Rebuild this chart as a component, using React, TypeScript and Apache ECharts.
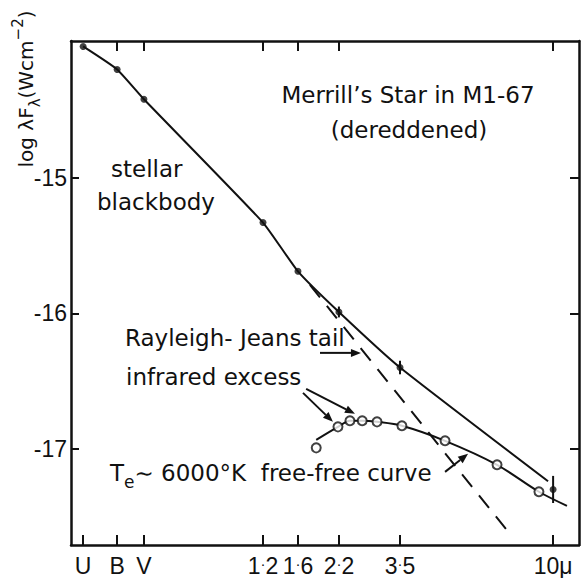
import { useEffect, useRef } from "react";
import * as echarts from "echarts";

// x: log10 of wavelength (axis position in μm), y: log λF_λ (W cm^-2)
const bandLabels = ["U", "B", "V", "1·2", "1·6", "2·2", "3·5", "10μ"];
const bandLogLambda = [-0.492, -0.384, -0.299, 0.079, 0.19, 0.32, 0.514, 1.0];
const topTickLogLambda = [-0.384, -0.299, 0.079, 0.19, 0.32, 1.0];
const yTicks = [-15, -16, -17];

// measured stellar fluxes (filled dots) and their error half-widths
const stellarFlux = [-14.03, -14.2, -14.42, -15.33, -15.69, -15.99, -16.4, -17.3];
const stellarErr = [0, 0, 0, 0, 0, 0.04, 0.05, 0.1];

// stellar blackbody curve
const blackbodyX = [-0.492, -0.384, -0.299, 0.079, 0.19, 0.32, 0.514, 0.984];
const blackbodyY = [-14.03, -14.2, -14.42, -15.33, -15.69, -15.99, -16.4, -17.24];

// Rayleigh-Jeans tail (dashed)
const rjTailX = [0.228, 0.87];
const rjTailY = [-15.79, -17.649];

// infrared excess (open circles)
const excessX = [0.248, 0.317, 0.355, 0.394, 0.441, 0.52, 0.657, 0.822, 0.955];
const excessY = [-16.993, -16.838, -16.793, -16.793, -16.801, -16.83, -16.941, -17.118, -17.317];

// Te ~ 6000 K free-free curve
const freeFreeX = [0.248, 0.317, 0.355, 0.394, 0.441, 0.52, 0.657, 0.822, 0.955, 1.044];
const freeFreeY = [-16.934, -16.838, -16.793, -16.793, -16.801, -16.83, -16.941, -17.118, -17.317, -17.421];

// annotation arrows: [xFrom, yFrom, xTo, yTo]
const arrowFromX = [0.26, 0.206, 0.216, 0.657];
const arrowFromY = [-16.292, -16.587, -16.557, -17.17];
const arrowToX = [0.39, 0.301, 0.371, 0.73];
const arrowToY = [-16.292, -16.801, -16.742, -17.037];

const FONT = '"DejaVu Sans", sans-serif';
const TICKFONT = '"Liberation Sans", Arial, sans-serif';
const INK = "#111";

export default function App() {
  const ref = useRef<HTMLDivElement>(null);
  useEffect(() => {
    if (!ref.current) return;
    const chart = echarts.init(ref.current, null, { renderer: "svg" });

    const zip = (xs: number[], ys: number[]) => xs.map((x, i) => [x, ys[i]]);
    const errData = bandLogLambda
      .map((x, i) => [x, stellarFlux[i], stellarErr[i]])
      .filter((d) => d[2] > 0);
    const arrowData = arrowFromX.map((x, i) => [x, arrowFromY[i], arrowToX[i], arrowToY[i]]);

    const axisLine = { show: true, onZero: false, lineStyle: { color: INK, width: 2.5 } };
    const xmin = -0.5305;
    const xmax = 1.0822;
    const ymin = -17.71;
    const ymax = -13.99;

    const option: any = {
      animation: false,
      backgroundColor: "#fff",
      grid: { left: 71, right: 6, top: 41, bottom: 33, containLabel: false },
      xAxis: [
        {
          type: "value",
          position: "bottom",
          min: xmin,
          max: xmax,
          axisLine,
          splitLine: { show: false },
          axisTick: {
            show: true,
            inside: true,
            length: 10,
            customValues: bandLogLambda,
            lineStyle: { color: INK, width: 2 },
          },
          axisLabel: {
            show: true,
            customValues: bandLogLambda,
            margin: 9,
            fontSize: 23,
            fontFamily: TICKFONT,
            color: INK,
            formatter: (v: number) => {
              const i = bandLogLambda.findIndex((b) => Math.abs(b - v) < 1e-6);
              if (i < 0) return "";
              const parts = bandLabels[i].split("·");
              return parts.length === 2
                ? `{n|${parts[0]}}{d|·}{n|${parts[1]}}`
                : `{n|${bandLabels[i]}}`;
            },
            rich: {
              n: { fontSize: 23, fontFamily: TICKFONT, color: INK },
              d: { fontSize: 15, fontFamily: TICKFONT, color: INK, padding: [0, 0, 5, 0] },
            },
          },
        },
        {
          type: "value",
          position: "top",
          min: xmin,
          max: xmax,
          axisLine,
          splitLine: { show: false },
          axisTick: {
            show: true,
            inside: true,
            length: 10,
            customValues: topTickLogLambda,
            lineStyle: { color: INK, width: 2 },
          },
          axisLabel: { show: false },
        },
      ],
      yAxis: [
        {
          type: "value",
          position: "left",
          min: ymin,
          max: ymax,
          axisLine,
          splitLine: { show: false },
          axisTick: {
            show: true,
            inside: true,
            length: 8,
            customValues: yTicks,
            lineStyle: { color: INK, width: 2 },
          },
          axisLabel: {
            show: true,
            customValues: yTicks,
            margin: 4,
            fontSize: 23,
            fontFamily: TICKFONT,
            color: INK,
            formatter: (v: number) => String(v),
          },
        },
        {
          type: "value",
          position: "right",
          min: ymin,
          max: ymax,
          axisLine,
          splitLine: { show: false },
          axisTick: {
            show: true,
            inside: true,
            length: 9,
            customValues: yTicks,
            lineStyle: { color: INK, width: 2 },
          },
          axisLabel: { show: false },
        },
      ],
      series: [
        {
          name: "stellar blackbody",
          type: "line",
          data: zip(blackbodyX, blackbodyY),
          smooth: 0.15,
          symbol: "none",
          lineStyle: { color: INK, width: 2 },
          z: 2,
        },
        {
          name: "Rayleigh-Jeans tail",
          type: "line",
          data: zip(rjTailX, rjTailY),
          symbol: "none",
          lineStyle: { color: INK, width: 2, type: [16, 11] },
          z: 2,
        },
        {
          name: "free-free curve",
          type: "line",
          data: zip(freeFreeX, freeFreeY),
          smooth: 0.3,
          symbol: "none",
          lineStyle: { color: INK, width: 2 },
          z: 2,
        },
        {
          name: "error bars",
          type: "custom",
          data: errData,
          renderItem: (_p: any, api: any) => {
            const x = api.value(0);
            const y = api.value(1);
            const e = api.value(2);
            const a = api.coord([x, y - e]);
            const b = api.coord([x, y + e]);
            return {
              type: "line",
              shape: { x1: a[0], y1: a[1], x2: b[0], y2: b[1] },
              style: { stroke: INK, lineWidth: 2 },
            };
          },
          z: 3,
        },
        {
          name: "stellar",
          type: "scatter",
          data: zip(bandLogLambda, stellarFlux),
          symbol: "circle",
          symbolSize: 7,
          itemStyle: { color: INK },
          z: 4,
        },
        {
          name: "infrared excess",
          type: "scatter",
          data: zip(excessX, excessY),
          symbol: "circle",
          symbolSize: 9,
          itemStyle: { color: "#fff", borderColor: INK, borderWidth: 2 },
          z: 4,
        },
        {
          name: "arrows",
          type: "custom",
          data: arrowData,
          renderItem: (_p: any, api: any) => {
            const p1 = api.coord([api.value(0), api.value(1)]);
            const p2 = api.coord([api.value(2), api.value(3)]);
            const ang = Math.atan2(p2[1] - p1[1], p2[0] - p1[0]);
            const hl = 10;
            const hw = 4;
            const bx = p2[0] - hl * Math.cos(ang);
            const by = p2[1] - hl * Math.sin(ang);
            const nx = -Math.sin(ang) * hw;
            const ny = Math.cos(ang) * hw;
            return {
              type: "group",
              children: [
                {
                  type: "line",
                  shape: { x1: p1[0], y1: p1[1], x2: bx, y2: by },
                  style: { stroke: INK, lineWidth: 2 },
                },
                {
                  type: "polygon",
                  shape: {
                    points: [
                      [p2[0], p2[1]],
                      [bx + nx, by + ny],
                      [bx - nx, by - ny],
                    ],
                  },
                  style: { fill: INK },
                },
              ],
            };
          },
          z: 5,
        },
      ],
      graphic: [
        {
          type: "text",
          x: 408,
          y: 95,
          style: {
            text: "Merrill’s Star in M1-67",
            font: `23px ${FONT}`,
            fill: INK,
            textAlign: "center",
            textVerticalAlign: "middle",
            align: "center",
            verticalAlign: "middle",
          },
        },
        {
          type: "text",
          x: 409,
          y: 130,
          style: {
            text: "(dereddened)",
            font: `23px ${FONT}`,
            fill: INK,
            textAlign: "center",
            textVerticalAlign: "middle",
            align: "center",
            verticalAlign: "middle",
          },
        },
        {
          type: "text",
          x: 111,
          y: 169,
          style: {
            text: "stellar",
            font: `23px ${FONT}`,
            fill: INK,
            textVerticalAlign: "middle",
            verticalAlign: "middle",
          },
        },
        {
          type: "text",
          x: 97,
          y: 202,
          style: {
            text: "blackbody",
            font: `23px ${FONT}`,
            fill: INK,
            textVerticalAlign: "middle",
            verticalAlign: "middle",
          },
        },
        {
          type: "text",
          x: 125,
          y: 338,
          style: {
            text: "Rayleigh- Jeans tail",
            font: `23px ${FONT}`,
            fill: INK,
            textVerticalAlign: "middle",
            verticalAlign: "middle",
          },
        },
        {
          type: "text",
          x: 126,
          y: 377,
          style: {
            text: "infrared excess",
            font: `23px ${FONT}`,
            fill: INK,
            textVerticalAlign: "middle",
            verticalAlign: "middle",
          },
        },
        {
          type: "text",
          x: 110,
          y: 473,
          style: {
            text: "{a|T}{s|e}{a|∼ 6000°K  free-free curve}",
            fill: INK,
            textVerticalAlign: "middle",
            verticalAlign: "middle",
            rich: {
              a: { fontSize: 23, fontFamily: FONT, color: INK, lineHeight: 34, verticalAlign: "middle" },
              s: { fontSize: 17, fontFamily: FONT, color: INK, lineHeight: 34, verticalAlign: "bottom" },
            },
          },
        },
        {
          type: "text",
          x: 26,
          y: 89,
          rotation: Math.PI / 2,
          style: {
            text: "{a|log λF}{s|λ}{a|(Wcm}{p|−2}{a|)}",
            fill: INK,
            textAlign: "center",
            textVerticalAlign: "middle",
            align: "center",
            verticalAlign: "middle",
            rich: {
              a: { fontSize: 20, fontFamily: FONT, color: INK, lineHeight: 32, verticalAlign: "middle" },
              s: { fontSize: 15, fontFamily: FONT, color: INK, lineHeight: 32, verticalAlign: "bottom" },
              p: { fontSize: 15, fontFamily: FONT, color: INK, lineHeight: 32, verticalAlign: "top" },
            },
          },
        },
      ],
    };

    chart.setOption(option);
    return () => chart.dispose();
  }, []);

  return (
    <div
      ref={ref}
      style={{ position: "absolute", left: 0, top: 0, width: 585, height: 578 }}
    />
  );
}
